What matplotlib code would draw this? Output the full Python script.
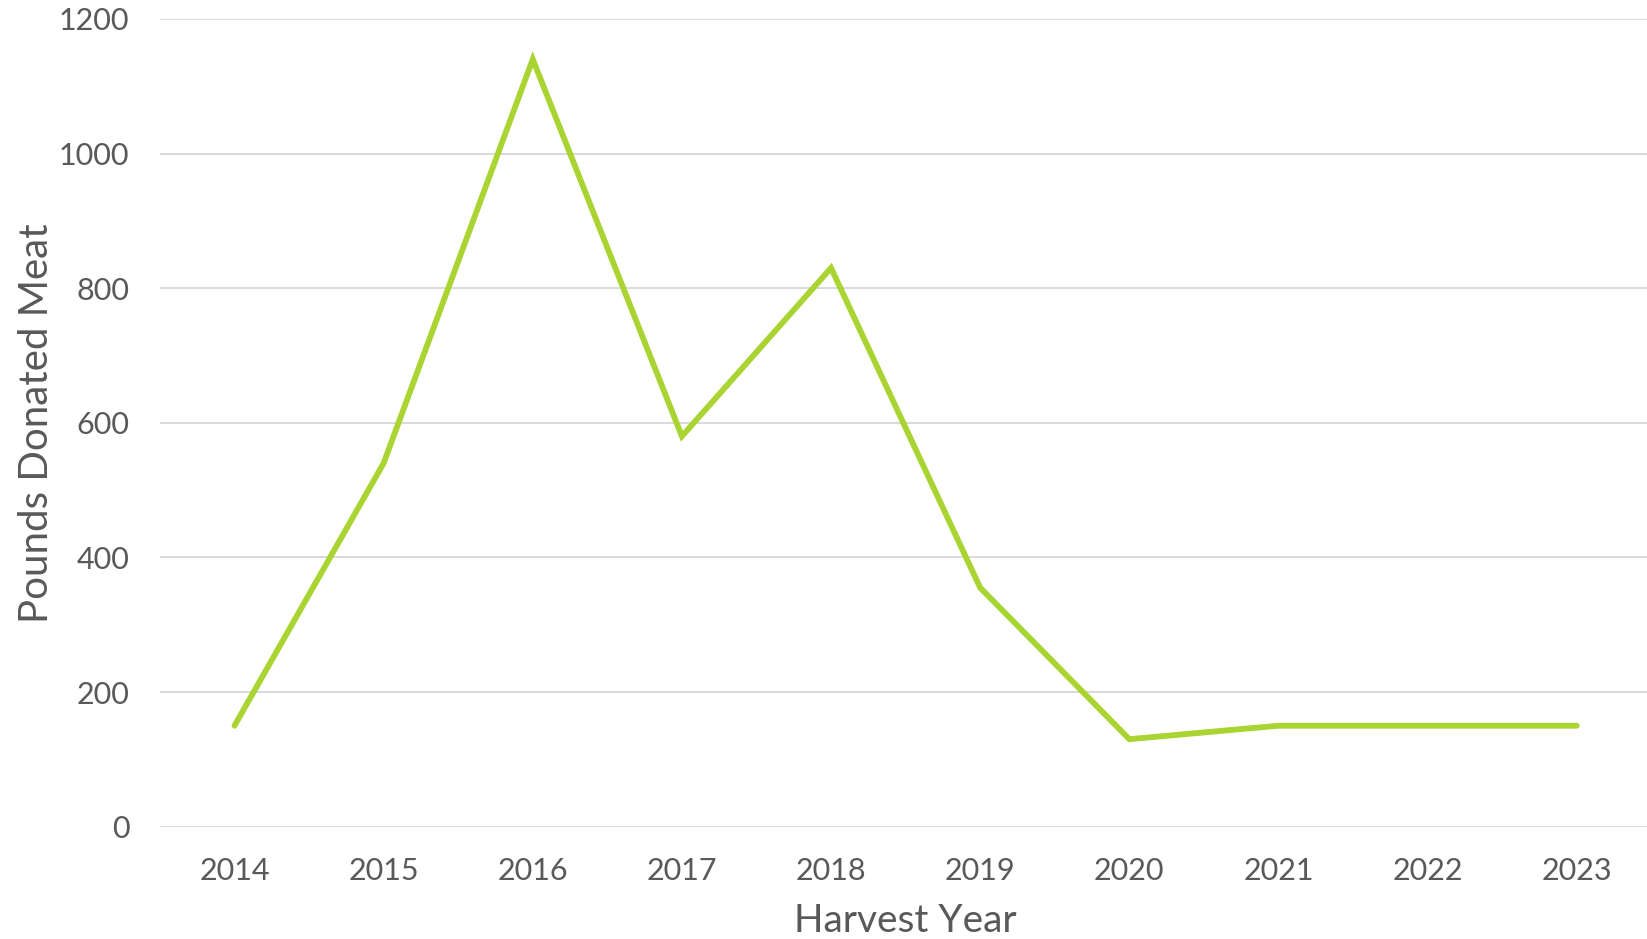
import matplotlib.pyplot as plt

# Data
years = ["2014", "2015", "2016", "2017", "2018", "2019", "2020", "2021", "2022", "2023"]
pounds = [150, 540, 1140, 580, 830, 355, 130, 150, 150, 150]
y_ticks = [0, 200, 400, 600, 800, 1000, 1200]

line_color = "#A9D431"
text_color = "#595959"
grid_color = "#D9D9D9"

plt.rcParams["font.family"] = ["Lato", "DejaVu Sans"]

fig = plt.figure(figsize=(16.47, 9.39), dpi=100)
ax = fig.add_axes([0.0971, 0.1196, 0.9055, 0.8603])

x = list(range(len(years)))
ax.plot(x, pounds, color=line_color, linewidth=4.2,
        solid_capstyle="round", solid_joinstyle="miter", zorder=3)

ax.set_xlim(-0.5, len(years) - 0.5)
ax.set_ylim(0, 1200)
ax.set_xticks(x)
ax.set_xticklabels(years)
ax.set_yticks(y_ticks)

ax.grid(axis="y", color=grid_color, linewidth=1.4)
ax.set_axisbelow(True)
for s in ax.spines.values():
    s.set_visible(False)

ax.tick_params(axis="both", length=0, labelsize=22, labelcolor=text_color)
ax.tick_params(axis="y", pad=22)
ax.tick_params(axis="x", pad=22)

ax.set_xlabel("Harvest Year", fontsize=28, color=text_color, labelpad=13)
ax.set_ylabel("Pounds Donated Meat", fontsize=29, color=text_color, labelpad=3)

fig.savefig("out.png", dpi=100)
